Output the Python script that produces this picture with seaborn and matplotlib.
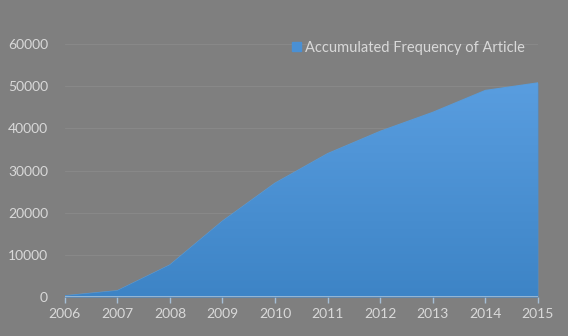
import numpy as np
import pandas as pd
import matplotlib.pyplot as plt
import seaborn as sns
from matplotlib.patches import Patch

years = [2006, 2007, 2008, 2009, 2010, 2011, 2012, 2013, 2014, 2015]
accumulated = [300, 1500, 7600, 18000, 27000, 34000, 39300, 43800, 49000, 50800]
series_name = "Accumulated Frequency of Article"

df = pd.DataFrame({"year": years, "freq": accumulated})

sns.set_style("dark")
plt.rcParams['font.family'] = ['Lato', 'DejaVu Sans']

bg = "#7f7f7f"
fg = "#d9d9d9"

fig = plt.figure(figsize=(5.68, 3.36), dpi=100, facecolor=bg)
ax = fig.add_axes([0.114, 0.116, 0.833, 0.753], facecolor=bg)

sns.lineplot(data=df, x="year", y="freq", ax=ax, color="#5b9bd5", lw=0.8)
poly = ax.fill_between(df["year"], df["freq"], 0, color="#4a90d4", lw=0)

# vertical gradient like the original
grad = np.linspace(0, 1, 256).reshape(-1, 1)
cmap = sns.blend_palette(["#3d84c6", "#5a9ee0"], as_cmap=True)
im = ax.imshow(grad, cmap=cmap, aspect="auto", origin="lower",
               extent=[2006, 2015, 0, 52000], zorder=2)
im.set_clip_path(poly.get_paths()[0], transform=ax.transData)

ax.set_xlim(2006, 2015)
ax.set_ylim(0, 60000)
ax.set_xticks(years)
ax.set_yticks(range(0, 60001, 10000))
for y in range(10000, 60001, 10000):
    ax.axhline(y, color="#888888", lw=0.8, zorder=1)
ax.axhline(0, color="#a6bfd6", lw=1.2, zorder=3)

ax.tick_params(axis="x", colors=fg, labelsize=10, length=4, width=1,
               direction="out", pad=4, bottom=True)
ax.tick_params(axis="x", color="#a6bfd6")
ax.tick_params(axis="y", colors=fg, labelsize=10, length=0, pad=12)
for s in ax.spines.values():
    s.set_visible(False)
ax.set_xlabel("")
ax.set_ylabel("")
ax.grid(False)

leg = ax.legend(handles=[Patch(color="#4a90d4", label=series_name)],
                loc="upper right", bbox_to_anchor=(1.0, 1.065), frameon=False,
                fontsize=10.5, handlelength=0.6, handleheight=0.6,
                handletextpad=0.3, labelcolor=fg)

fig.savefig("out.png", dpi=100, facecolor=bg)
